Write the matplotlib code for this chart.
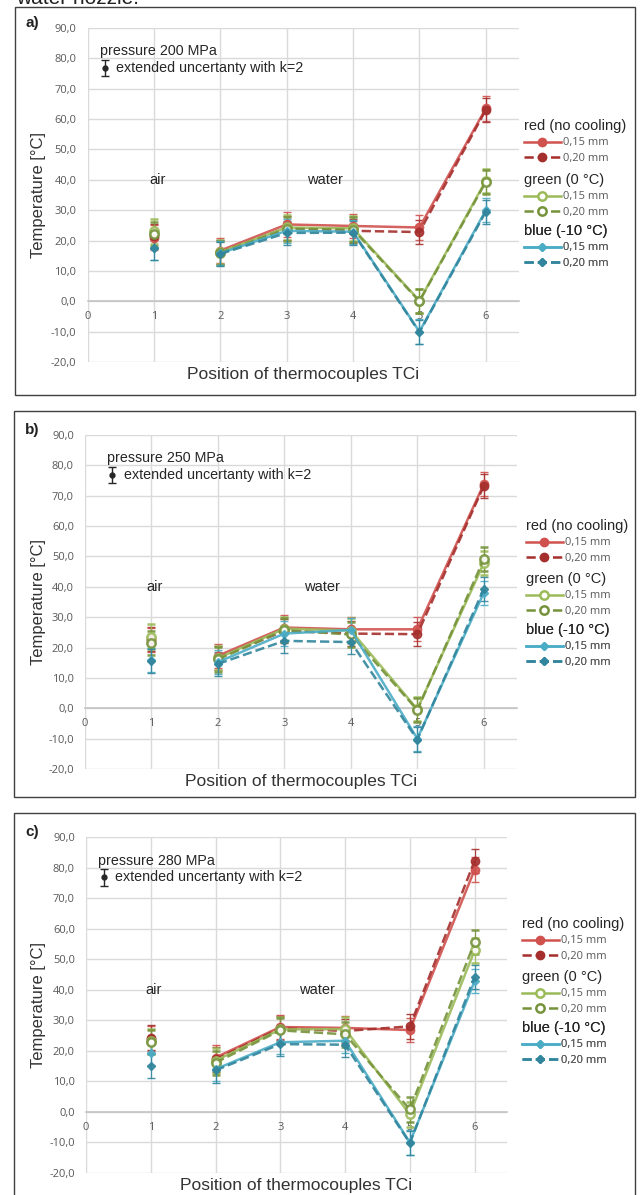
import matplotlib
matplotlib.use('Agg')
import matplotlib.pyplot as plt
from matplotlib.lines import Line2D
from matplotlib.patches import Rectangle
from matplotlib.ticker import FuncFormatter

# positions of the thermocouples TC1..TC6
positions = [1, 2, 3, 4, 5, 6]

# a) 200 MPa
a_red15 = [21.0, 16.7, 25.3, 24.8, 24.3, 63.5]
a_red20 = [21.5, 16.2, 24.2, 23.2, 22.8, 63.0]
a_green15 = [23.0, 16.2, 24.3, 24.0, 0.2, 39.7]
a_green20 = [22.2, 15.9, 23.8, 23.6, 0.0, 39.3]
a_blue15 = [17.7, 15.8, 23.2, 22.9, -10.0, 30.0]
a_blue20 = [17.6, 15.6, 22.5, 22.6, -10.2, 29.5]

# b) 250 MPa
b_red15 = [22.5, 17.3, 26.6, 26.0, 26.0, 73.8]
b_red20 = [22.8, 16.6, 25.5, 24.6, 24.4, 73.2]
b_green15 = [23.6, 16.5, 26.2, 25.6, -0.3, 47.8]
b_green20 = [21.6, 16.1, 25.7, 24.3, -0.6, 49.1]
b_blue15 = [15.8, 15.2, 24.6, 25.8, -10.0, 38.0]
b_blue20 = [15.6, 14.6, 22.2, 21.8, -10.3, 39.3]

# c) 280 MPa
c_red15 = [24.0, 17.8, 27.8, 27.5, 26.8, 79.3]
c_red20 = [24.3, 17.2, 27.4, 26.5, 28.0, 82.2]
c_green15 = [23.2, 16.8, 27.0, 27.1, -0.8, 52.9]
c_green20 = [22.8, 16.1, 26.7, 25.4, 0.8, 55.6]
c_blue15 = [19.3, 14.0, 22.8, 23.3, -10.0, 42.8]
c_blue20 = [15.0, 13.6, 22.2, 22.0, -10.2, 44.2]

# extended uncertainty (k=2)
unc = [4.0, 4.0, 4.0, 4.0, 4.0, 4.0]

panel_letters = ['a)', 'b)', 'c)']
pressures = ['pressure 200 MPa', 'pressure 250 MPa', 'pressure 280 MPa']
panel_data = [
    [a_red15, a_red20, a_green15, a_green20, a_blue15, a_blue20],
    [b_red15, b_red20, b_green15, b_green20, b_blue15, b_blue20],
    [c_red15, c_red20, c_green15, c_green20, c_blue15, c_blue20],
]
group_titles = ['red (no cooling)', 'green (0 °C)', 'blue (-10 °C)']
widths = ['0,15 mm', '0,20 mm']

# series styles: (colour, linestyle, marker, face)
styles = [
    ('#d0524f', '-', 'o', None),
    ('#a52f2d', '--', 'o', None),
    ('#9bbb59', '-', 'o', 'white'),
    ('#76933c', '--', 'o', 'white'),
    ('#4bacc6', '-', 'D', None),
    ('#31859c', '--', 'D', None),
]

TXT = 'Liberation Sans'
TICK = 'Open Sans'
GREY = '#595959'

W, H = 640, 1195
fig = plt.figure(figsize=(W / 100, H / 100), dpi=100)


def frac(l, r, t, b):
    return [l / W, 1 - b / H, (r - l) / W, (b - t) / H]


# pixel layouts: axes (l, r, t, b), box (l, r, t, b)
axes_px = [(87.5, 519, 28, 362), (85, 517, 435, 769), (86, 507, 837, 1173)]
box_px = [(15, 635, 7, 395), (14, 635, 411, 797), (14, 635, 813, 1210)]
# annotation placement (data coords): pressure text x, icon x, text x
note_x = [(0.19, 0.26, 0.43), (0.33, 0.41, 0.59), (0.19, 0.28, 0.45)]
# legend anchor: left pixel, title centre y (pixels)
leg_pos = [(524, [128, 182, 233]), (526, [528, 581, 632]), (522, [926, 979, 1030])]

fig.text(16 / W, 1 - 4 / H, 'water nozzle.', fontsize=15, family=TXT,
         va='baseline', color='#222222')

for i in range(3):
    bl, br, bt, bb = box_px[i]
    fig.patches.append(Rectangle((bl / W, 1 - bb / H), (br - bl) / W, (bb - bt) / H,
                                 transform=fig.transFigure, fill=False,
                                 edgecolor='#404040', linewidth=1.0))
    l, r, t, b = axes_px[i]
    ax = fig.add_axes(frac(l, r, t, b))
    ax.set_xlim(0, 6.5)
    ax.set_ylim(-20, 90)
    ax.set_xticks([0, 1, 2, 3, 4, 5, 6])
    ax.set_yticks(range(-20, 91, 10))
    ax.yaxis.set_major_formatter(FuncFormatter(lambda v, p: f'{v:.1f}'.replace('.', ',')))
    ax.grid(True, color='#dadada', linewidth=1.0)
    ax.set_axisbelow(True)
    for s in ['top', 'right', 'left']:
        ax.spines[s].set_visible(False)
    ax.spines['bottom'].set_position(('data', 0))
    ax.spines['bottom'].set_color('#c4c4c4')
    ax.spines['bottom'].set_linewidth(1.2)
    ax.tick_params(length=0, labelsize=8, labelcolor=GREY)
    ax.tick_params(axis='y', pad=8)
    ax.tick_params(axis='x', pad=7)
    for lab in ax.get_xticklabels() + ax.get_yticklabels():
        lab.set_family(TICK)

    ax.set_ylabel('Temperature [°C]', fontsize=12, family=TXT, color='#333333')
    ax.yaxis.set_label_coords(-(l - 46) / (r - l), 0.5)
    ax.set_xlabel('Position of thermocouples TCi', fontsize=12.5, family=TXT, color='#333333')
    ax.xaxis.set_label_coords(0.5, -0.014)

    # series
    for vals, (col, ls, mk, face) in zip(panel_data[i], styles):
        ms = 6 if mk == 'o' else 4
        fc = face if face else col
        mew = 1.8 if face else 1
        # TC1 (air) stands alone, TC2..TC6 are connected
        ax.errorbar(positions[:1], vals[:1], yerr=unc[:1], color=col, ls='none',
                    marker=mk, ms=ms, mfc=fc, mec=col, mew=mew,
                    elinewidth=0.9, capsize=3, capthick=0.9, alpha=0.9, zorder=3)
        ax.errorbar(positions[1:], vals[1:], yerr=unc[1:], color=col, ls=ls,
                    lw=1.8, marker=mk, ms=ms, mfc=fc, mec=col, mew=mew,
                    elinewidth=0.9, capsize=3, capthick=0.9, alpha=0.9, zorder=3)

    # annotations
    px, ix, tx = note_x[i]
    ax.text(px, 82.3, pressures[i], fontsize=10.3, family=TXT, color='#262626', va='center')
    ax.errorbar([ix], [76.8], yerr=[2.7], color='#262626', marker='o', ms=3.5,
                capsize=3, elinewidth=1, capthick=1)
    ax.text(tx, 76.8, 'extended uncertanty with k=2', fontsize=10.3, family=TXT,
            color='#262626', va='center')
    ax.text(1.05, 40, 'air', fontsize=10.5, family=TXT, color='#262626', ha='center', va='center')
    ax.text(3.57, 40, 'water', fontsize=10.5, family=TXT, color='#262626', ha='center', va='center')

    fig.text(25 / W, 1 - (t - 5) / H, panel_letters[i], fontsize=11, fontweight='bold',
             family=TXT, color='#222222', va='center')

    # legends, one per cooling group
    lxp, tys = leg_pos[i]
    lx = (lxp - l) / (r - l)
    for g in range(3):
        handles = []
        for k in range(2):
            col, ls, mk, face = styles[2 * g + k]
            ms = 6 if mk == 'o' else 4
            handles.append(Line2D([], [], color=col, ls=ls, lw=1.8, marker=mk, ms=ms,
                                  mfc=face if face else col, mec=col,
                                  mew=1.8 if face else 1))
        ty = (b - (tys[g] - 9)) / (b - t)
        leg = ax.legend(handles, widths, title=group_titles[g], loc='upper left',
                        bbox_to_anchor=(lx, ty), frameon=False, borderpad=0,
                        borderaxespad=0, handlelength=3.3, handletextpad=0.25,
                        labelspacing=0.4, alignment='left',
                        prop={'family': TICK, 'size': 8},
                        title_fontproperties={'family': TXT, 'size': 10.5})
        leg.get_title().set_color('#262626')
        for txt in leg.get_texts():
            txt.set_color(GREY)
        ax.add_artist(leg)

fig.savefig('out.png', dpi=100)
